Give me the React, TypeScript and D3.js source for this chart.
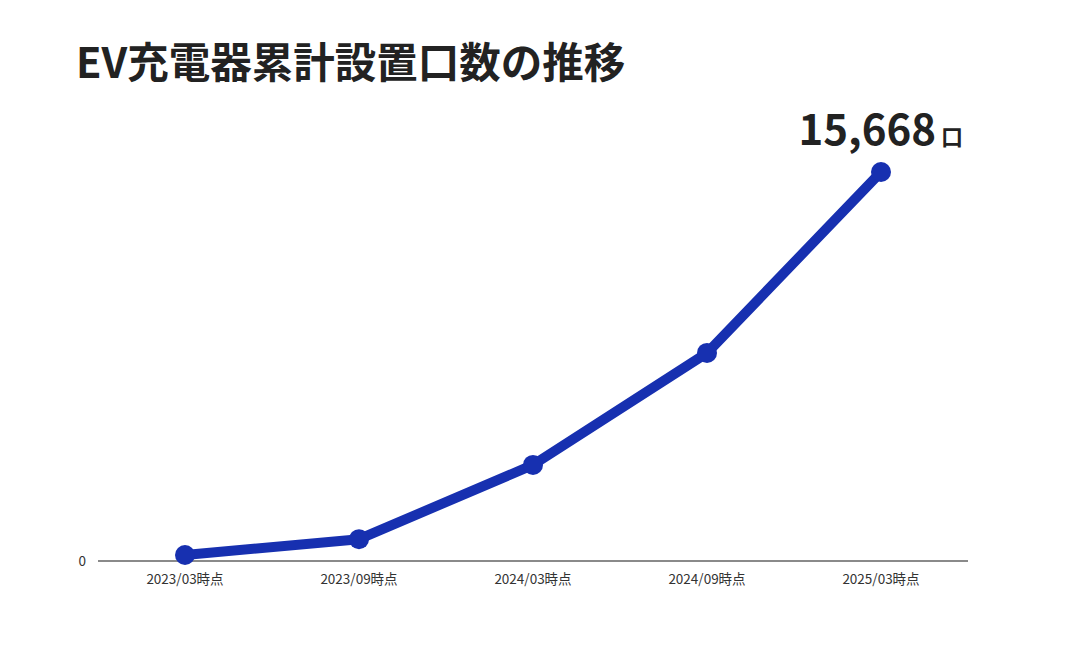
import React from "react";
import * as d3 from "d3";

const categories = ["2023/03時点", "2023/09時点", "2024/03時点", "2024/09時点", "2025/03時点"];
const values = [240, 880, 3870, 8380, 15668];
const yTicks = [0];
const title = "EV充電器累計設置口数の推移";
const lastLabel = "15,668";
const unit = "口";

const W = 1075;
const H = 650;
const FONT = "'Noto Sans CJK JP', 'Noto Sans', sans-serif";

export default function App() {
  const x = d3.scaleBand<string>().domain(categories).range([98, 968]).padding(0);
  const y = d3.scaleLinear().domain([0, 15668]).range([561, 172]);
  const line = d3
    .line<number>()
    .x((_, i) => (x(categories[i]) as number) + x.bandwidth() / 2)
    .y((d) => y(d));
  const lastX = (x(categories[categories.length - 1]) as number) + x.bandwidth() / 2;
  const lastY = y(values[values.length - 1]);

  return (
    <svg width={W} height={H} style={{ position: "absolute", left: 0, top: 0, background: "#fff" }}>
      <rect x={0} y={0} width={W} height={H} fill="#fff" />
      <text x={76} y={78} fontFamily={FONT} fontWeight={700} fontSize={41.5} fill="#222">
        {title}
      </text>
      <line x1={98} x2={968} y1={y(0)} y2={y(0)} stroke="#8a8a8a" strokeWidth={2} />
      {yTicks.map((t) => (
        <text key={t} x={86} y={y(t)} dy="0.35em" textAnchor="end" fontFamily={FONT} fontSize={13.5} fill="#333">
          {t}
        </text>
      ))}
      {categories.map((c) => (
        <text
          key={c}
          x={(x(c) as number) + x.bandwidth() / 2}
          y={579}
          dy="0.35em"
          textAnchor="middle"
          fontFamily={FONT}
          fontSize={13.5}
          fill="#333"
        >
          {c}
        </text>
      ))}
      <path d={line(values) || ""} fill="none" stroke="#1730b0" strokeWidth={10} strokeLinejoin="round" />
      {values.map((v, i) => (
        <circle
          key={i}
          cx={(x(categories[i]) as number) + x.bandwidth() / 2}
          cy={y(v)}
          r={10}
          fill="#1730b0"
        />
      ))}
      <text x={lastX + 82} y={lastY - 27} textAnchor="end" fontFamily={FONT} fill="#222">
        <tspan fontWeight={700} fontSize={42}>{lastLabel}</tspan>
        <tspan fontWeight={700} fontSize={22} dx={5}>{unit}</tspan>
      </text>
    </svg>
  );
}
